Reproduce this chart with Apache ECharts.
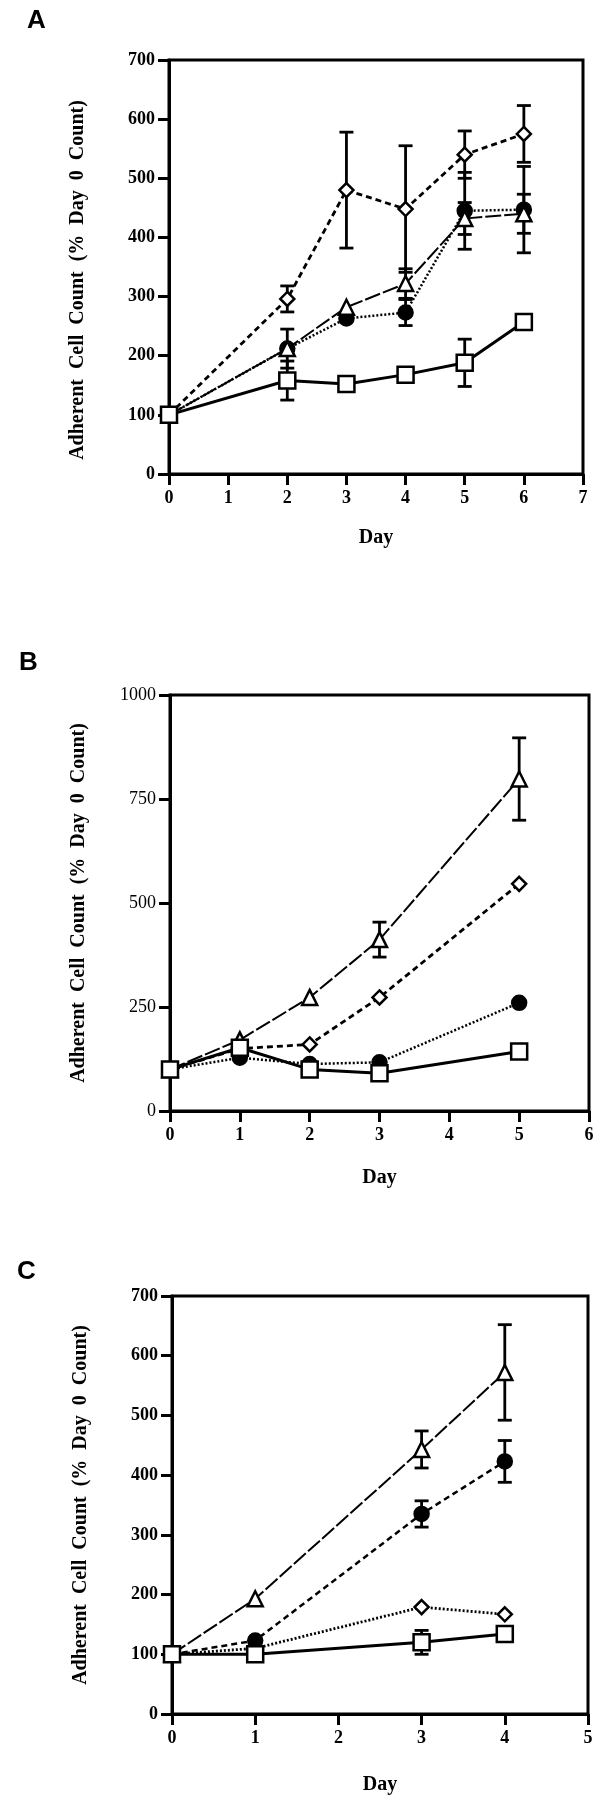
<!DOCTYPE html>
<html>
<head>
<meta charset="utf-8">
<script src="https://cdn.jsdelivr.net/npm/echarts@6/dist/echarts.min.js"></script>
<style>
html,body{margin:0;padding:0;background:#fff;}
#chart{width:603px;height:1800px;}
</style>
</head>
<body>
<div id="chart"></div>
<script>
// ---------- Data ----------
const yTitle = 'Adherent  Cell  Count  (%  Day  0  Count)';
const xTitle = 'Day';
const panelLabels = ['A', 'B', 'C'];

// Panel A
const daysA = [0, 2, 3, 4, 5, 6];
const aSquare = [100, 158, 152, 168, 188, 257];
const aSquareErr = [0, 33, 0, 0, 40, 0];
const aDiamond = [100, 296, 480, 448, 540, 575];
const aDiamondErr = [0, 22, 98, 107, 40, 48];
const aTriangle = [100, 212, 282, 322, 432, 440];
const aTriangleErr = [0, 0, 0, 25, 27, 33];
const aCircle = [100, 212, 263, 273, 445, 447];
const aCircleErr = [0, 33, 0, 22, 65, 73];

// Panel B
const daysB = [0, 1, 2, 3, 5];
const bTriangle = [100, 171, 273, 412, 798];
const bTriangleErr = [0, 0, 0, 42, 99];
const bDiamond = [100, 150, 160, 273, 546];
const bCircle = [100, 128, 113, 117, 260];
const bSquare = [100, 152, 100, 91, 143];

// Panel C
const daysC = [0, 1, 3, 4];
const cTriangle = [100, 193, 443, 572];
const cTriangleErr = [0, 0, 31, 80];
const cCircle = [100, 123, 335, 423];
const cCircleErr = [0, 0, 22, 35];
const cDiamond = [100, 110, 179, 167];
const cSquare = [100, 100, 120, 134];
const cSquareErr = [0, 0, 20, 0];

// Axis ranges
const xMaxA = 7, xMaxB = 6, xMaxC = 5;
const yMaxA = 700, yMaxB = 1000, yMaxC = 700;
const yStepA = 100, yStepB = 250, yStepC = 100;

// ---------- Styles ----------
const SERIF = '"Liberation Serif", "DejaVu Serif", serif';
const STY = {
  square:   {symbol: 'rect', size: 16, fill: '#fff', dash: 'solid', width: 3},
  diamond:  {symbol: 'diamond', size: 14, fill: '#fff', dash: [6, 4], width: 2.8},
  triangle: {symbol: 'triangle', size: 15, fill: '#fff', dash: [16, 3], width: 2},
  circle:   {symbol: 'circle', size: 14, fill: '#000', dash: [2, 2], width: 2.5},
  dashMed:  [6, 4],
  dotted:   [2, 2]
};

function lineSeries(g, days, vals, kind, dashOverride, z) {
  const s = STY[kind];
  return {
    type: 'line', xAxisIndex: g, yAxisIndex: g,
    data: days.map((d, i) => [d, vals[i]]),
    symbol: s.symbol, symbolSize: s.size, showSymbol: true,
    lineStyle: {color: '#000', width: s.width, type: dashOverride || s.dash},
    itemStyle: {color: s.fill, borderColor: '#000', borderWidth: 2.5},
    z: z || 3, animation: false, silent: true
  };
}

function errSeries(g, days, vals, errs) {
  const data = [];
  days.forEach((d, i) => { if (errs[i] > 0) data.push([d, vals[i], errs[i]]); });
  return {
    type: 'custom', xAxisIndex: g, yAxisIndex: g, z: 2, silent: true, animation: false,
    data: data,
    encode: {x: 0, y: 1},
    renderItem: function (params, api) {
      const x = api.value(0), v = api.value(1), e = api.value(2);
      const hi = api.coord([x, v + e]);
      const lo = api.coord([x, v - e]);
      const cw = 7;
      const st = {stroke: '#000', lineWidth: 2.8};
      return {
        type: 'group',
        children: [
          {type: 'line', shape: {x1: hi[0], y1: hi[1], x2: lo[0], y2: lo[1]}, style: st},
          {type: 'line', shape: {x1: hi[0] - cw, y1: hi[1], x2: hi[0] + cw, y2: hi[1]}, style: st},
          {type: 'line', shape: {x1: lo[0] - cw, y1: lo[1], x2: lo[0] + cw, y2: lo[1]}, style: st}
        ]
      };
    }
  };
}

const grids = [
  {left: 169, right: 20, top: 60, height: 414},
  {left: 170, right: 14, top: 695, height: 416},
  {left: 172, right: 15, top: 1296, height: 418}
];

function xAxis(g, max, gap) {
  return {
    type: 'value', gridIndex: g, min: 0, max: max, interval: 1,
    name: xTitle, nameLocation: 'middle', nameGap: gap,
    nameTextStyle: {fontFamily: SERIF, fontWeight: 'bold', fontSize: 20, color: '#000'},
    axisLine: {show: true, onZero: false, lineStyle: {color: '#000', width: 3}},
    axisTick: {show: true, length: 11, lineStyle: {color: '#000', width: 3}},
    axisLabel: {color: '#000', fontFamily: SERIF, fontWeight: 'bold', fontSize: 18, margin: 15},
    splitLine: {show: false}
  };
}
function yAxis(g, max, step, gap, bold, pad) {
  return {
    type: 'value', gridIndex: g, min: 0, max: max, interval: step,
    name: yTitle, nameLocation: 'middle', nameGap: gap,
    nameTextStyle: {fontFamily: SERIF, fontWeight: 'bold', fontSize: 20, color: '#000', padding: pad || 0},
    axisLine: {show: true, onZero: false, lineStyle: {color: '#000', width: 3}},
    axisTick: {show: true, length: 11, lineStyle: {color: '#000', width: 3}},
    axisLabel: {color: '#000', fontFamily: SERIF, fontWeight: bold ? 'bold' : 'normal', fontSize: 18, margin: 14,
      formatter: v => String(v)},
    splitLine: {show: false}
  };
}

const LETTER_FONT = '900 26px "Liberation Sans", Arial, sans-serif';
const option = {
  backgroundColor: '#fff',
  animation: false,
  grid: grids.map(g => Object.assign({show: true, borderColor: '#000', borderWidth: 3, backgroundColor: 'transparent'}, g)),
  xAxis: [xAxis(0, xMaxA, 54), xAxis(1, xMaxB, 57), xAxis(2, xMaxC, 61)],
  yAxis: [yAxis(0, yMaxA, yStepA, 81, true, [0, 26, 0, 0]), yAxis(1, yMaxB, yStepB, 81, false), yAxis(2, yMaxC, yStepC, 81, true)],
  graphic: [
    {type: 'text', left: 27, top: 8, style: {text: panelLabels[0], font: LETTER_FONT, fill: '#000'}},
    {type: 'text', left: 19, top: 650, style: {text: panelLabels[1], font: LETTER_FONT, fill: '#000'}},
    {type: 'text', left: 17, top: 1259, style: {text: panelLabels[2], font: LETTER_FONT, fill: '#000'}}
  ],
  series: [
    // Panel A
    errSeries(0, daysA, aSquare, aSquareErr),
    errSeries(0, daysA, aDiamond, aDiamondErr),
    errSeries(0, daysA, aTriangle, aTriangleErr),
    errSeries(0, daysA, aCircle, aCircleErr),
    lineSeries(0, daysA, aCircle, 'circle', null, 3),
    lineSeries(0, daysA, aTriangle, 'triangle', null, 4),
    lineSeries(0, daysA, aDiamond, 'diamond', null, 5),
    lineSeries(0, daysA, aSquare, 'square', null, 6),
    // Panel B
    errSeries(1, daysB, bTriangle, bTriangleErr),
    lineSeries(1, daysB, bCircle, 'circle', null, 3),
    lineSeries(1, daysB, bDiamond, 'diamond', null, 4),
    lineSeries(1, daysB, bTriangle, 'triangle', null, 5),
    lineSeries(1, daysB, bSquare, 'square', null, 6),
    // Panel C
    errSeries(2, daysC, cTriangle, cTriangleErr),
    errSeries(2, daysC, cCircle, cCircleErr),
    errSeries(2, daysC, cSquare, cSquareErr),
    lineSeries(2, daysC, cDiamond, 'diamond', STY.dotted, 3),
    lineSeries(2, daysC, cCircle, 'circle', STY.dashMed, 4),
    lineSeries(2, daysC, cTriangle, 'triangle', null, 5),
    lineSeries(2, daysC, cSquare, 'square', null, 6)
  ]
};

const chart = echarts.init(document.getElementById('chart'), null, {renderer: 'canvas'});
chart.setOption(option);
</script>
</body>
</html>
